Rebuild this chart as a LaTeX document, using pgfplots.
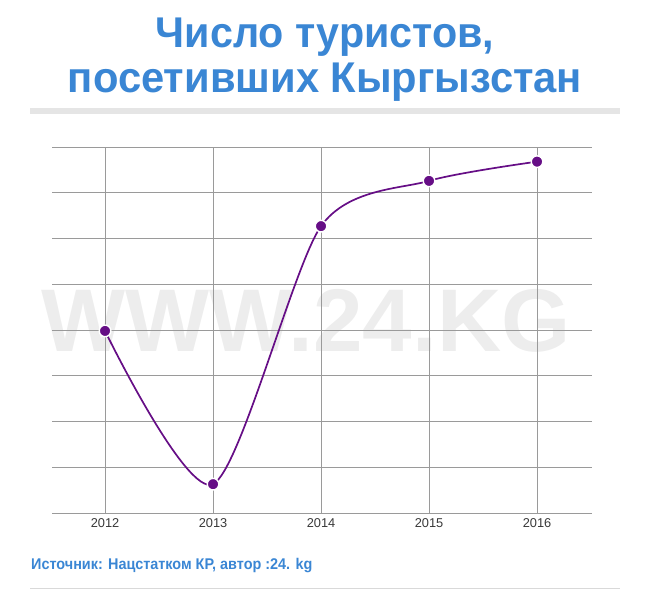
\documentclass[border=0pt]{standalone}
\usepackage{pgfplots}
\pgfplotsset{compat=1.18}
\usepackage{fontspec}
\setmainfont{Liberation Sans}
\definecolor{tblue}{HTML}{3A86D4}
\definecolor{lpurple}{HTML}{660E86}
\definecolor{gridg}{HTML}{9A9A9A}
\definecolor{wm}{HTML}{EDEDED}
\begin{document}
\begin{tikzpicture}
\path[use as bounding box] (0pt,0pt) rectangle (650pt,592pt);
% watermark
\node[text=wm,font=\fontsize{89}{89}\selectfont\bfseries,anchor=base] at (306pt,240pt) {WWW.24.KG};
% title
\node[text=tblue,font=\fontsize{43}{43}\selectfont\bfseries,anchor=base,inner sep=0pt] at (325pt,544pt) {\scalebox{0.96}[1]{Число туристов,}};
\node[text=tblue,font=\fontsize{43}{43}\selectfont\bfseries,anchor=base,inner sep=0pt] at (325pt,499pt) {\scalebox{0.97}[1]{посетивших Кыргызстан}};
\fill[black!10] (30pt,478pt) rectangle (620pt,484pt);
\begin{axis}[
  at={(52pt,79pt)}, anchor=south west,
  scale only axis, width=540pt, height=366pt,
  xmin=2011.509, xmax=2016.509, ymin=0, ymax=8,
  hide axis,
  clip=false,
]
\addplot[gridg, line width=0.8pt, forget plot] coordinates {(2011.509,0) (2016.509,0)};
\pgfplotsinvokeforeach{1,2,3,4,5,6,7,8}{
  \addplot[gridg, line width=0.6pt, forget plot] coordinates {(2011.509,#1) (2016.509,#1)};
}
\pgfplotsinvokeforeach{2012,2013,2014,2015,2016}{
  \addplot[gridg, line width=0.6pt, forget plot] coordinates {(#1,0) (#1,8)};
  \node[text=black!78,font=\fontsize{12.8}{12.8}\selectfont,anchor=base] at (axis cs:#1,-0.31) {#1};
}
\addplot[lpurple, line width=1.7pt, smooth, tension=0.45, mark=*,
  mark options={fill=lpurple, draw=white, line width=1.4pt}, mark size=5.8pt]
  coordinates {(2012,3.98) (2013,0.63) (2014,6.27) (2015,7.26) (2016,7.68)};
\end{axis}
\node[text=tblue,font=\fontsize{15.5}{15.5}\selectfont\bfseries,anchor=base west,inner sep=0pt] at (31pt,23pt) {\scalebox{0.93}[1]{Источник: Нацстатком КР, автор :24. kg}};
\draw[black!15, line width=1pt] (30pt,4pt) -- (620pt,4pt);
\end{tikzpicture}
\end{document}
